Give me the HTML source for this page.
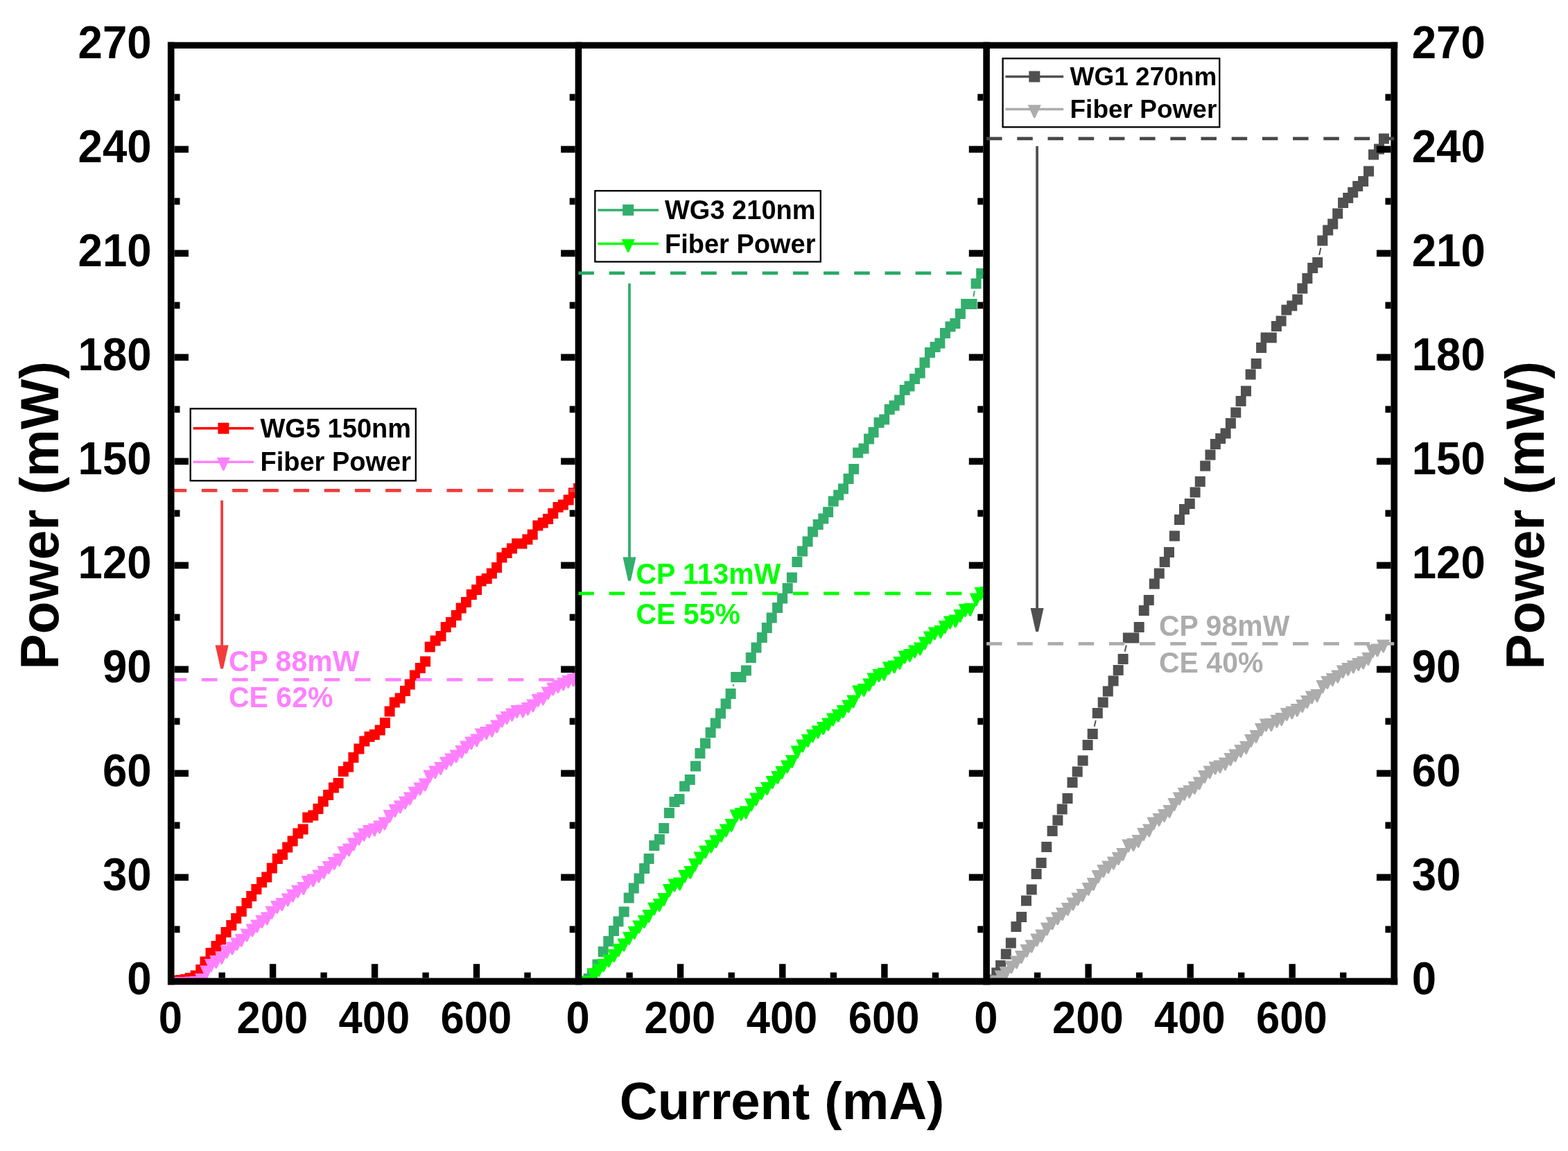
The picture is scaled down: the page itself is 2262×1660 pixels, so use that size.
<!DOCTYPE html>
<html><head><meta charset="utf-8"><title>Power vs Current</title>
<style>html,body{margin:0;padding:0;background:#fff;}svg{display:block;}</style>
</head><body>
<svg width="2262" height="1660" viewBox="0 0 2262 1660">
<rect width="2262" height="1660" fill="#fff"/>
<defs>
<clipPath id="c0"><rect x="246.7" y="65.3" width="587.8" height="1350.1000000000001"/></clipPath>
<clipPath id="c1"><rect x="834.5" y="65.3" width="588.5999999999999" height="1350.1000000000001"/></clipPath>
<clipPath id="c2"><rect x="1423.1" y="65.3" width="588.1000000000001" height="1350.1000000000001"/></clipPath>
</defs>
<g clip-path="url(#c0)">
<path fill="#ff0000" d="M239.2 1406.9h15.0v15.0h-15.0zM246.5 1406.4h15.0v15.0h-15.0zM253.9 1405.9h15.0v15.0h-15.0zM260.2 1404.9h15.0v15.0h-15.0zM266.7 1402.9h15.0v15.0h-15.0zM274.7 1399.4h15.0v15.0h-15.0zM282.3 1390.9h15.0v15.0h-15.0zM288.5 1379.4h15.0v15.0h-15.0zM296.5 1366.9h15.0v15.0h-15.0zM304.5 1356.9h15.0v15.0h-15.0zM311.1 1347.4h15.0v15.0h-15.0zM318.6 1336.9h15.0v15.0h-15.0zM326.3 1326.9h15.0v15.0h-15.0zM333.2 1316.9h15.0v15.0h-15.0zM340.8 1306.9h15.0v15.0h-15.0zM348.5 1294.9h15.0v15.0h-15.0zM355.2 1284.9h15.0v15.0h-15.0zM362.4 1274.9h15.0v15.0h-15.0zM370.1 1264.9h15.0v15.0h-15.0zM377.3 1257.4h15.0v15.0h-15.0zM384.8 1244.4h15.0v15.0h-15.0zM392.8 1230.9h15.0v15.0h-15.0zM400.0 1224.9h15.0v15.0h-15.0zM407.2 1214.4h15.0v15.0h-15.0zM414.6 1205.4h15.0v15.0h-15.0zM422.4 1194.4h15.0v15.0h-15.0zM429.6 1188.4h15.0v15.0h-15.0zM436.3 1171.4h15.0v15.0h-15.0zM444.3 1168.4h15.0v15.0h-15.0zM451.5 1158.9h15.0v15.0h-15.0zM458.7 1148.4h15.0v15.0h-15.0zM466.1 1138.9h15.0v15.0h-15.0zM473.9 1128.4h15.0v15.0h-15.0zM480.6 1121.9h15.0v15.0h-15.0zM487.8 1104.9h15.0v15.0h-15.0zM495.1 1098.4h15.0v15.0h-15.0zM502.4 1084.9h15.0v15.0h-15.0zM510.4 1072.4h15.0v15.0h-15.0zM518.3 1061.4h15.0v15.0h-15.0zM525.5 1054.9h15.0v15.0h-15.0zM532.8 1051.9h15.0v15.0h-15.0zM540.7 1045.4h15.0v15.0h-15.0zM547.9 1034.9h15.0v15.0h-15.0zM554.6 1018.4h15.0v15.0h-15.0zM561.8 1005.4h15.0v15.0h-15.0zM569.7 999.4h15.0v15.0h-15.0zM577.0 988.9h15.0v15.0h-15.0zM583.7 979.4h15.0v15.0h-15.0zM590.9 966.4h15.0v15.0h-15.0zM598.8 955.9h15.0v15.0h-15.0zM606.1 946.4h15.0v15.0h-15.0zM612.7 925.4h15.0v15.0h-15.0zM620.6 916.4h15.0v15.0h-15.0zM628.5 909.9h15.0v15.0h-15.0zM635.7 896.9h15.0v15.0h-15.0zM643.0 889.9h15.0v15.0h-15.0zM650.8 879.9h15.0v15.0h-15.0zM657.7 869.4h15.0v15.0h-15.0zM665.0 860.9h15.0v15.0h-15.0zM672.8 849.9h15.0v15.0h-15.0zM680.1 842.9h15.0v15.0h-15.0zM686.7 830.4h15.0v15.0h-15.0zM694.7 826.9h15.0v15.0h-15.0zM701.9 819.4h15.0v15.0h-15.0zM709.1 810.9h15.0v15.0h-15.0zM716.4 796.4h15.0v15.0h-15.0zM723.7 789.9h15.0v15.0h-15.0zM731.0 783.4h15.0v15.0h-15.0zM738.2 776.4h15.0v15.0h-15.0zM745.4 776.4h15.0v15.0h-15.0zM753.4 770.4h15.0v15.0h-15.0zM760.7 763.4h15.0v15.0h-15.0zM768.4 750.4h15.0v15.0h-15.0zM775.8 746.4h15.0v15.0h-15.0zM783.1 740.9h15.0v15.0h-15.0zM790.3 732.9h15.0v15.0h-15.0zM797.6 723.9h15.0v15.0h-15.0zM804.9 720.4h15.0v15.0h-15.0zM812.7 713.4h15.0v15.0h-15.0zM819.9 703.4h15.0v15.0h-15.0zM827.1 696.9h15.0v15.0h-15.0z"/>
<path fill="#ff80ff" d="M237.1 1409.1H256.3L247.8 1427.7H245.6zM244.4 1409.1H263.6L255.1 1427.7H252.9zM251.8 1409.1H271.0L262.5 1427.7H260.3zM259.1 1409.1H278.3L269.8 1427.7H267.6zM266.5 1408.6H285.7L277.2 1427.2H275.0zM273.8 1408.1H293.0L284.5 1426.7H282.3zM281.2 1404.1H300.4L291.9 1422.7H289.7zM288.4 1392.6H307.6L299.1 1411.2H296.9zM294.9 1383.1H314.1L305.6 1401.7H303.4zM302.2 1378.1H321.4L312.9 1396.7H310.7zM310.2 1372.1H329.4L320.9 1390.7H318.7zM317.4 1363.6H336.6L328.1 1382.2H325.9zM325.4 1358.6H344.6L336.1 1377.2H333.9zM332.0 1352.6H351.2L342.7 1371.2H340.5zM338.6 1347.1H357.8L349.3 1365.7H347.1zM346.5 1339.6H365.7L357.2 1358.2H355.0zM354.5 1332.6H373.7L365.2 1351.2H363.0zM361.1 1326.6H380.3L371.8 1345.2H369.6zM368.3 1320.1H387.5L379.0 1338.7H376.8zM375.7 1315.6H394.9L386.4 1334.2H384.2zM382.4 1307.1H401.6L393.1 1325.7H390.9zM390.1 1299.1H409.3L400.8 1317.7H398.6zM397.3 1295.1H416.5L408.0 1313.7H405.8zM405.6 1288.6H424.8L416.3 1307.2H414.1zM412.8 1282.6H432.0L423.5 1301.2H421.3zM420.0 1276.6H439.2L430.7 1295.2H428.5zM428.3 1272.1H447.5L439.0 1290.7H436.8zM434.5 1263.1H453.7L445.2 1281.7H443.0zM442.2 1260.6H461.4L452.9 1279.2H450.7zM450.2 1254.6H469.4L460.9 1273.2H458.7zM457.5 1249.1H476.7L468.2 1267.7H466.0zM464.7 1242.1H483.9L475.4 1260.7H473.2zM472.6 1236.1H491.8L483.3 1254.7H481.1zM479.9 1231.1H499.1L490.6 1249.7H488.4zM486.5 1220.6H505.7L497.2 1239.2H495.0zM493.8 1216.6H513.0L504.5 1235.2H502.3zM500.5 1208.6H519.7L511.2 1227.2H509.0zM508.3 1200.6H527.5L519.0 1219.2H516.8zM515.6 1194.6H534.8L526.3 1213.2H524.1zM522.8 1190.1H542.0L533.5 1208.7H531.3zM530.7 1187.6H549.9L541.4 1206.2H539.2zM538.0 1183.6H557.2L548.7 1202.2H546.5zM545.3 1178.6H564.5L556.0 1197.2H553.8zM552.5 1168.1H571.7L563.2 1186.7H561.0zM560.4 1160.1H579.6L571.1 1178.7H568.9zM567.7 1154.6H586.9L578.4 1173.2H576.2zM574.9 1148.6H594.1L585.6 1167.2H583.4zM581.8 1142.6H601.0L592.5 1161.2H590.3zM588.5 1134.6H607.7L599.2 1153.2H597.0zM596.3 1128.6H615.5L607.0 1147.2H604.8zM603.6 1122.6H622.8L614.3 1141.2H612.1zM610.3 1110.6H629.5L621.0 1129.2H618.8zM618.1 1104.6H637.3L628.8 1123.2H626.6zM626.0 1099.1H645.2L636.7 1117.7H634.5zM633.9 1091.6H653.1L644.6 1110.2H642.4zM641.1 1086.6H660.3L651.8 1105.2H649.6zM648.4 1081.6H667.6L659.1 1100.2H656.9zM656.3 1075.1H675.5L667.0 1093.7H664.8zM663.0 1068.6H682.2L673.7 1087.2H671.5zM670.2 1062.6H689.4L680.9 1081.2H678.7zM678.2 1058.6H697.4L688.9 1077.2H686.7zM684.8 1050.6H704.0L695.5 1069.2H693.3zM692.1 1048.1H711.3L702.8 1066.7H700.6zM700.0 1044.6H719.2L710.7 1063.2H708.5zM707.2 1038.6H726.4L717.9 1057.2H715.7zM714.5 1030.6H733.7L725.2 1049.2H723.0zM721.7 1026.1H740.9L732.4 1044.7H730.2zM729.0 1021.6H748.2L739.7 1040.2H737.5zM736.2 1017.1H755.4L746.9 1035.7H744.7zM744.7 1016.6H763.9L755.4 1035.2H753.2zM751.9 1013.1H771.1L762.6 1031.7H760.4zM759.3 1008.6H778.5L770.0 1027.2H767.8zM766.5 1001.1H785.7L777.2 1019.7H775.0zM773.8 998.6H793.0L784.5 1017.2H782.3zM780.8 990.6H800.0L791.5 1009.2H789.3zM788.2 984.6H807.4L798.9 1003.2H796.7zM795.5 981.1H814.7L806.2 999.7H804.0zM802.9 977.6H822.1L813.6 996.2H811.4zM810.2 974.1H829.4L820.9 992.7H818.7zM817.6 971.6H836.8L828.3 990.2H826.1zM824.9 970.1H844.1L835.6 988.7H833.4z"/>
</g>
<g clip-path="url(#c1)">
<path fill="none" stroke="#33ae6c" stroke-width="2" d="M1057.5 989.8L1058.4 987.0M1404.3 427.8L1405.9 419.5"/>
<path fill="#33ae6c" d="M827.0 1407.9h15.0v15.0h-15.0zM834.4 1407.4h15.0v15.0h-15.0zM841.7 1403.9h15.0v15.0h-15.0zM846.9 1396.4h15.0v15.0h-15.0zM854.5 1383.4h15.0v15.0h-15.0zM862.7 1364.9h15.0v15.0h-15.0zM870.3 1349.9h15.0v15.0h-15.0zM878.0 1334.9h15.0v15.0h-15.0zM884.5 1321.4h15.0v15.0h-15.0zM892.7 1307.4h15.0v15.0h-15.0zM899.7 1287.4h15.0v15.0h-15.0zM906.8 1273.4h15.0v15.0h-15.0zM914.5 1259.4h15.0v15.0h-15.0zM922.1 1244.9h15.0v15.0h-15.0zM928.6 1230.9h15.0v15.0h-15.0zM936.3 1211.9h15.0v15.0h-15.0zM943.9 1202.9h15.0v15.0h-15.0zM950.2 1186.9h15.0v15.0h-15.0zM957.9 1164.9h15.0v15.0h-15.0zM965.5 1148.9h15.0v15.0h-15.0zM972.5 1144.9h15.0v15.0h-15.0zM980.1 1126.4h15.0v15.0h-15.0zM987.8 1116.9h15.0v15.0h-15.0zM996.0 1097.4h15.0v15.0h-15.0zM1002.4 1078.9h15.0v15.0h-15.0zM1010.0 1064.4h15.0v15.0h-15.0zM1017.6 1048.9h15.0v15.0h-15.0zM1024.8 1035.4h15.0v15.0h-15.0zM1032.0 1021.4h15.0v15.0h-15.0zM1039.6 1007.4h15.0v15.0h-15.0zM1046.6 992.9h15.0v15.0h-15.0zM1054.2 968.9h15.0v15.0h-15.0zM1061.5 968.9h15.0v15.0h-15.0zM1068.9 959.4h15.0v15.0h-15.0zM1075.8 940.9h15.0v15.0h-15.0zM1083.5 926.4h15.0v15.0h-15.0zM1091.8 911.9h15.0v15.0h-15.0zM1098.8 897.9h15.0v15.0h-15.0zM1105.7 883.4h15.0v15.0h-15.0zM1114.1 868.9h15.0v15.0h-15.0zM1121.1 855.4h15.0v15.0h-15.0zM1128.7 840.9h15.0v15.0h-15.0zM1134.9 825.4h15.0v15.0h-15.0zM1142.4 802.9h15.0v15.0h-15.0zM1150.0 787.4h15.0v15.0h-15.0zM1157.6 773.4h15.0v15.0h-15.0zM1165.1 759.4h15.0v15.0h-15.0zM1172.7 748.9h15.0v15.0h-15.0zM1180.3 740.4h15.0v15.0h-15.0zM1187.1 730.9h15.0v15.0h-15.0zM1194.7 715.4h15.0v15.0h-15.0zM1202.2 706.4h15.0v15.0h-15.0zM1209.0 697.4h15.0v15.0h-15.0zM1216.6 682.9h15.0v15.0h-15.0zM1224.2 668.9h15.0v15.0h-15.0zM1230.2 645.4h15.0v15.0h-15.0zM1238.5 639.4h15.0v15.0h-15.0zM1246.1 625.4h15.0v15.0h-15.0zM1252.6 615.9h15.0v15.0h-15.0zM1260.6 601.9h15.0v15.0h-15.0zM1268.2 597.4h15.0v15.0h-15.0zM1275.7 582.9h15.0v15.0h-15.0zM1282.6 577.4h15.0v15.0h-15.0zM1290.1 569.4h15.0v15.0h-15.0zM1297.7 554.9h15.0v15.0h-15.0zM1304.5 549.4h15.0v15.0h-15.0zM1312.1 538.9h15.0v15.0h-15.0zM1319.7 530.4h15.0v15.0h-15.0zM1326.5 515.4h15.0v15.0h-15.0zM1334.0 500.9h15.0v15.0h-15.0zM1341.6 492.9h15.0v15.0h-15.0zM1348.4 487.4h15.0v15.0h-15.0zM1356.0 472.9h15.0v15.0h-15.0zM1363.5 463.4h15.0v15.0h-15.0zM1370.4 458.9h15.0v15.0h-15.0zM1377.9 444.9h15.0v15.0h-15.0zM1386.2 430.9h15.0v15.0h-15.0zM1394.6 430.9h15.0v15.0h-15.0zM1400.6 401.4h15.0v15.0h-15.0zM1408.2 386.9h15.0v15.0h-15.0z"/>
<path fill="#00ff00" d="M824.9 1409.1H844.1L835.6 1427.7H833.4zM832.3 1409.1H851.5L843.0 1427.7H840.8zM839.6 1407.6H858.8L850.3 1426.2H848.1zM846.8 1396.6H866.0L857.5 1415.2H855.3zM854.3 1390.1H873.5L865.0 1408.7H862.8zM861.0 1383.1H880.2L871.7 1401.7H869.5zM868.6 1376.6H887.8L879.3 1395.2H877.1zM876.2 1369.1H895.4L886.9 1387.7H884.7zM882.8 1361.1H902.0L893.5 1379.7H891.3zM890.4 1353.6H909.6L901.1 1372.2H898.9zM898.0 1344.1H917.2L908.7 1362.7H906.5zM905.6 1336.1H924.8L916.3 1354.7H914.1zM912.2 1327.6H931.4L922.9 1346.2H920.7zM919.8 1320.1H939.0L930.5 1338.7H928.3zM926.3 1312.1H945.5L937.0 1330.7H934.8zM934.0 1301.6H953.2L944.7 1320.2H942.5zM941.6 1296.1H960.8L952.3 1314.7H950.1zM948.1 1288.1H967.3L958.8 1306.7H956.6zM955.8 1275.1H975.0L966.5 1293.7H964.3zM963.4 1267.6H982.6L974.1 1286.2H971.9zM971.0 1265.6H990.2L981.7 1284.2H979.5zM978.1 1254.6H997.3L988.8 1273.2H986.6zM986.3 1249.1H1005.5L997.0 1267.7H994.8zM992.8 1238.1H1012.0L1003.5 1256.7H1001.3zM1000.4 1228.4H1019.6L1011.1 1247.0H1008.9zM1008.0 1219.6H1027.2L1018.7 1238.2H1016.5zM1016.3 1211.6H1035.5L1027.0 1230.2H1024.8zM1023.2 1204.6H1042.4L1033.9 1223.2H1031.7zM1030.9 1196.1H1050.1L1041.6 1214.7H1039.4zM1037.9 1188.6H1057.1L1048.6 1207.2H1046.4zM1045.5 1181.1H1064.7L1056.2 1199.7H1054.0zM1052.5 1167.6H1071.7L1063.2 1186.2H1061.0zM1059.5 1165.1H1078.7L1070.2 1183.7H1068.0zM1066.5 1162.6H1085.7L1077.2 1181.2H1075.0zM1074.1 1151.6H1093.3L1084.8 1170.2H1082.6zM1081.1 1143.6H1100.3L1091.8 1162.2H1089.6zM1088.7 1135.1H1107.9L1099.4 1153.7H1097.2zM1097.0 1128.1H1116.2L1107.7 1146.7H1105.5zM1104.6 1119.1H1123.8L1115.3 1137.7H1113.1zM1112.2 1112.1H1131.4L1122.9 1130.7H1120.7zM1118.3 1105.1H1137.5L1129.0 1123.7H1126.8zM1126.0 1096.6H1145.2L1136.7 1115.2H1134.5zM1132.9 1089.1H1152.1L1143.6 1107.7H1141.4zM1140.5 1075.6H1159.7L1151.2 1094.2H1149.0zM1148.2 1066.6H1167.4L1158.9 1085.2H1156.7zM1155.8 1059.1H1175.0L1166.5 1077.7H1164.3zM1162.8 1052.1H1182.0L1173.5 1070.7H1171.3zM1170.5 1046.6H1189.7L1181.2 1065.2H1179.0zM1178.1 1041.1H1197.3L1188.8 1059.7H1186.6zM1185.1 1035.6H1204.3L1195.8 1054.2H1193.6zM1192.0 1028.6H1211.2L1202.7 1047.2H1200.5zM1199.7 1023.1H1218.9L1210.4 1041.7H1208.2zM1206.7 1017.1H1225.9L1217.4 1035.7H1215.2zM1214.3 1009.6H1233.5L1225.0 1028.2H1222.8zM1221.3 1002.6H1240.5L1232.0 1021.2H1229.8zM1229.0 988.6H1248.2L1239.7 1007.2H1237.5zM1236.6 986.1H1255.8L1247.3 1004.7H1245.1zM1244.2 978.6H1263.4L1254.9 997.2H1252.7zM1250.5 970.6H1269.7L1261.2 989.2H1259.0zM1258.3 965.1H1277.5L1269.0 983.7H1266.8zM1265.8 963.1H1285.0L1276.5 981.7H1274.3zM1272.8 954.6H1292.0L1283.5 973.2H1281.3zM1280.5 952.6H1299.7L1291.2 971.2H1289.0zM1288.2 947.1H1307.4L1298.9 965.7H1296.7zM1295.5 938.6H1314.7L1306.2 957.2H1304.0zM1302.8 936.1H1322.0L1313.5 954.7H1311.3zM1310.0 930.6H1329.2L1320.7 949.2H1318.5zM1317.8 926.6H1337.0L1328.5 945.2H1326.3zM1324.5 918.6H1343.7L1335.2 937.2H1333.0zM1331.8 910.6H1351.0L1342.5 929.2H1340.3zM1338.7 904.6H1357.9L1349.4 923.2H1347.2zM1347.4 902.1H1366.6L1358.1 920.7H1355.9zM1353.6 895.1H1372.8L1364.3 913.7H1362.1zM1360.9 888.6H1380.1L1371.6 907.2H1369.4zM1368.7 886.6H1387.9L1379.4 905.2H1377.2zM1375.5 879.1H1394.7L1386.2 897.7H1384.0zM1382.7 871.1H1401.9L1393.4 889.7H1391.2zM1390.0 870.1H1409.2L1400.7 888.7H1398.5zM1398.7 855.6H1417.9L1409.4 874.2H1407.2zM1405.5 847.1H1424.7L1416.2 865.7H1414.0zM1413.2 846.1H1432.4L1423.9 864.7H1421.7z"/>
</g>
<g clip-path="url(#c2)">
<path fill="none" stroke="#505050" stroke-width="2" d="M1578.7 1047.8L1580.8 1039.0M1622.6 939.8L1624.9 930.5M1903.1 367.8L1905.4 357.5"/>
<path fill="#505050" d="M1415.6 1407.9h15.0v15.0h-15.0zM1423.0 1405.4h15.0v15.0h-15.0zM1430.3 1395.4h15.0v15.0h-15.0zM1436.1 1384.9h15.0v15.0h-15.0zM1443.8 1368.4h15.0v15.0h-15.0zM1450.8 1352.4h15.0v15.0h-15.0zM1458.4 1328.9h15.0v15.0h-15.0zM1466.1 1314.9h15.0v15.0h-15.0zM1473.0 1291.4h15.0v15.0h-15.0zM1480.7 1275.4h15.0v15.0h-15.0zM1487.6 1252.9h15.0v15.0h-15.0zM1494.6 1236.9h15.0v15.0h-15.0zM1502.3 1213.9h15.0v15.0h-15.0zM1510.6 1190.9h15.0v15.0h-15.0zM1518.4 1175.4h15.0v15.0h-15.0zM1524.7 1159.4h15.0v15.0h-15.0zM1532.5 1143.9h15.0v15.0h-15.0zM1539.5 1120.9h15.0v15.0h-15.0zM1546.7 1105.4h15.0v15.0h-15.0zM1554.6 1089.4h15.0v15.0h-15.0zM1561.6 1066.9h15.0v15.0h-15.0zM1568.7 1050.9h15.0v15.0h-15.0zM1575.8 1020.9h15.0v15.0h-15.0zM1583.7 1005.4h15.0v15.0h-15.0zM1590.8 989.4h15.0v15.0h-15.0zM1598.6 974.4h15.0v15.0h-15.0zM1605.7 958.9h15.0v15.0h-15.0zM1612.6 942.9h15.0v15.0h-15.0zM1619.9 912.4h15.0v15.0h-15.0zM1628.3 912.4h15.0v15.0h-15.0zM1635.7 896.9h15.0v15.0h-15.0zM1642.8 872.9h15.0v15.0h-15.0zM1649.8 857.9h15.0v15.0h-15.0zM1657.8 834.4h15.0v15.0h-15.0zM1664.8 819.4h15.0v15.0h-15.0zM1672.7 802.9h15.0v15.0h-15.0zM1679.0 788.9h15.0v15.0h-15.0zM1686.9 765.4h15.0v15.0h-15.0zM1694.0 741.9h15.0v15.0h-15.0zM1701.0 726.9h15.0v15.0h-15.0zM1708.8 718.9h15.0v15.0h-15.0zM1716.6 702.4h15.0v15.0h-15.0zM1723.8 686.9h15.0v15.0h-15.0zM1731.2 664.4h15.0v15.0h-15.0zM1738.5 648.4h15.0v15.0h-15.0zM1745.9 632.9h15.0v15.0h-15.0zM1753.2 624.9h15.0v15.0h-15.0zM1760.6 617.4h15.0v15.0h-15.0zM1767.9 602.9h15.0v15.0h-15.0zM1775.3 587.4h15.0v15.0h-15.0zM1782.6 570.9h15.0v15.0h-15.0zM1790.0 556.4h15.0v15.0h-15.0zM1796.6 532.4h15.0v15.0h-15.0zM1804.7 516.9h15.0v15.0h-15.0zM1812.1 493.9h15.0v15.0h-15.0zM1818.6 479.4h15.0v15.0h-15.0zM1826.8 479.4h15.0v15.0h-15.0zM1833.9 462.9h15.0v15.0h-15.0zM1840.6 455.4h15.0v15.0h-15.0zM1848.4 439.4h15.0v15.0h-15.0zM1856.3 433.4h15.0v15.0h-15.0zM1864.2 424.4h15.0v15.0h-15.0zM1871.3 408.4h15.0v15.0h-15.0zM1878.4 393.9h15.0v15.0h-15.0zM1886.2 378.9h15.0v15.0h-15.0zM1893.2 370.9h15.0v15.0h-15.0zM1900.3 339.4h15.0v15.0h-15.0zM1908.2 324.4h15.0v15.0h-15.0zM1915.2 315.4h15.0v15.0h-15.0zM1922.2 300.4h15.0v15.0h-15.0zM1930.1 284.9h15.0v15.0h-15.0zM1937.2 277.9h15.0v15.0h-15.0zM1944.2 269.9h15.0v15.0h-15.0zM1951.2 260.9h15.0v15.0h-15.0zM1959.1 253.9h15.0v15.0h-15.0zM1967.0 239.4h15.0v15.0h-15.0zM1974.0 215.4h15.0v15.0h-15.0zM1981.9 207.4h15.0v15.0h-15.0zM1988.9 192.4h15.0v15.0h-15.0z"/>
<path fill="#acacac" d="M1413.5 1409.1H1432.7L1424.2 1427.7H1422.0zM1420.9 1409.1H1440.1L1431.6 1427.7H1429.4zM1428.2 1406.6H1447.4L1438.9 1425.2H1436.7zM1434.6 1399.6H1453.8L1445.3 1418.2H1443.1zM1441.6 1394.1H1460.8L1452.3 1412.7H1450.1zM1449.3 1385.6H1468.5L1460.0 1404.2H1457.8zM1456.9 1378.6H1476.1L1467.6 1397.2H1465.4zM1463.9 1371.1H1483.1L1474.6 1389.7H1472.4zM1471.5 1362.1H1490.7L1482.2 1380.7H1480.0zM1478.5 1355.6H1497.7L1489.2 1374.2H1487.0zM1486.2 1346.6H1505.4L1496.9 1365.2H1494.7zM1493.1 1340.6H1512.3L1503.8 1359.2H1501.6zM1500.8 1330.6H1520.0L1511.5 1349.2H1509.3zM1508.4 1322.6H1527.6L1519.1 1341.2H1516.9zM1516.1 1315.6H1535.3L1526.8 1334.2H1524.6zM1523.0 1309.1H1542.2L1533.7 1327.7H1531.5zM1530.7 1302.1H1549.9L1541.4 1320.7H1539.2zM1538.4 1294.6H1557.6L1549.1 1313.2H1546.9zM1545.3 1287.6H1564.5L1556.0 1306.2H1553.8zM1552.3 1282.1H1571.5L1563.0 1300.7H1560.8zM1560.6 1273.1H1579.8L1571.3 1291.7H1569.1zM1567.6 1266.1H1586.8L1578.3 1284.7H1576.1zM1574.6 1255.1H1593.8L1585.3 1273.7H1583.1zM1582.2 1247.1H1601.4L1592.9 1265.7H1590.7zM1589.2 1241.6H1608.4L1599.9 1260.2H1597.7zM1596.8 1235.6H1616.0L1607.5 1254.2H1605.3zM1603.8 1229.1H1623.0L1614.5 1247.7H1612.3zM1610.1 1223.1H1629.3L1620.8 1241.7H1618.6zM1618.2 1210.6H1637.4L1628.9 1229.2H1626.7zM1625.4 1209.1H1644.6L1636.1 1227.7H1633.9zM1632.5 1204.1H1651.7L1643.2 1222.7H1641.0zM1640.1 1194.1H1659.3L1650.8 1212.7H1648.6zM1648.1 1188.6H1667.3L1658.8 1207.2H1656.6zM1654.4 1178.6H1673.6L1665.1 1197.2H1662.9zM1662.4 1173.1H1681.6L1673.1 1191.7H1670.9zM1669.9 1167.1H1689.1L1680.6 1185.7H1678.4zM1677.4 1161.1H1696.6L1688.1 1179.7H1685.9zM1684.3 1151.1H1703.5L1695.0 1169.7H1692.8zM1691.7 1142.6H1710.9L1702.4 1161.2H1700.2zM1698.7 1136.1H1717.9L1709.4 1154.7H1707.2zM1706.2 1132.6H1725.4L1716.9 1151.2H1714.7zM1713.6 1127.1H1732.8L1724.3 1145.7H1722.1zM1720.5 1120.6H1739.7L1731.2 1139.2H1729.0zM1728.0 1111.1H1747.2L1738.7 1129.7H1736.5zM1735.5 1104.6H1754.7L1746.2 1123.2H1744.0zM1743.5 1098.6H1762.7L1754.2 1117.2H1752.0zM1750.4 1096.6H1769.6L1761.1 1115.2H1758.9zM1757.9 1092.6H1777.1L1768.6 1111.2H1766.4zM1765.4 1086.1H1784.6L1776.1 1104.7H1773.9zM1772.3 1080.6H1791.5L1783.0 1099.2H1780.8zM1780.3 1074.1H1799.5L1791.0 1092.7H1788.8zM1788.1 1069.1H1807.3L1798.8 1087.7H1796.6zM1795.0 1059.1H1814.2L1805.7 1077.7H1803.5zM1802.4 1053.1H1821.6L1813.1 1071.7H1810.9zM1809.9 1043.1H1829.1L1820.6 1061.7H1818.4zM1816.8 1036.6H1836.0L1827.5 1055.2H1825.3zM1824.3 1036.1H1843.5L1835.0 1054.7H1832.8zM1832.3 1031.1H1851.5L1843.0 1049.7H1840.8zM1839.2 1028.1H1858.4L1849.9 1046.7H1847.7zM1846.7 1021.1H1865.9L1857.4 1039.7H1855.2zM1854.2 1018.6H1873.4L1864.9 1037.2H1862.7zM1861.6 1015.1H1880.8L1872.3 1033.7H1870.1zM1869.1 1009.1H1888.3L1879.8 1027.7H1877.6zM1876.0 1003.1H1895.2L1886.7 1021.7H1884.5zM1882.9 996.6H1902.1L1893.6 1015.2H1891.4zM1890.4 994.1H1909.6L1901.1 1012.7H1898.9zM1898.4 981.1H1917.6L1909.1 999.7H1906.9zM1905.3 975.1H1924.5L1916.0 993.7H1913.8zM1912.7 971.1H1931.9L1923.4 989.7H1921.2zM1920.2 966.6H1939.4L1930.9 985.2H1928.7zM1927.7 959.6H1946.9L1938.4 978.2H1936.2zM1935.1 956.1H1954.3L1945.8 974.7H1943.6zM1942.7 952.6H1961.9L1953.4 971.2H1951.2zM1950.1 949.1H1969.3L1960.8 967.7H1958.6zM1957.0 946.6H1976.2L1967.7 965.2H1965.5zM1964.2 941.1H1983.4L1974.9 959.7H1972.7zM1970.7 930.1H1989.9L1981.4 948.7H1979.2zM1977.4 928.6H1996.6L1988.1 947.2H1985.9zM1986.0 922.6H2005.2L1996.7 941.2H1994.5z"/>
</g>
<line x1="246.7" y1="707.4" x2="834.5" y2="707.4" stroke="#f23c3c" stroke-width="4.6" stroke-dasharray="22.5 21.7"/>
<line x1="246.7" y1="980.2" x2="834.5" y2="980.2" stroke="#ff80ff" stroke-width="4.6" stroke-dasharray="22.5 21.7"/>
<rect x="274.7" y="589.4" width="325.09999999999997" height="103.89999999999998" fill="#fff" stroke="#000" stroke-width="2.3"/>
<line x1="278.8" y1="617.7" x2="365.9" y2="617.7" stroke="#ff0000" stroke-width="3.5"/>
<rect x="314.4" y="609.7" width="16" height="16" fill="#ff0000"/>
<line x1="278.8" y1="666.2" x2="365.9" y2="666.2" stroke="#ff80ff" stroke-width="3.5"/>
<path fill="#ff80ff" d="M312.8 659.8H332.0L323.5 678.5H321.2z"/>
<text font-family="'Liberation Sans', Arial, sans-serif" font-weight="bold" font-size="38" fill="#000" x="375.5" y="631.1">WG5 150nm</text>
<text font-family="'Liberation Sans', Arial, sans-serif" font-weight="bold" font-size="38" fill="#000" x="375.5" y="678.5">Fiber Power</text>
<rect x="858.4" y="275.2" width="325.4" height="102.30000000000001" fill="#fff" stroke="#000" stroke-width="2.3"/>
<line x1="862.4" y1="302.9" x2="950.0" y2="302.9" stroke="#33ae6c" stroke-width="3.5"/>
<rect x="898.2" y="294.9" width="16" height="16" fill="#33ae6c"/>
<line x1="862.4" y1="351.5" x2="950.0" y2="351.5" stroke="#00ff00" stroke-width="3.5"/>
<path fill="#00ff00" d="M896.6 345.1H915.8L907.3 363.8H905.1z"/>
<text font-family="'Liberation Sans', Arial, sans-serif" font-weight="bold" font-size="38" fill="#000" x="959" y="316">WG3 210nm</text>
<text font-family="'Liberation Sans', Arial, sans-serif" font-weight="bold" font-size="38" fill="#000" x="959" y="364.8">Fiber Power</text>
<rect x="1446.6" y="84.3" width="312.70000000000005" height="99.00000000000001" fill="#fff" stroke="#000" stroke-width="2.3"/>
<line x1="1450.4" y1="110.5" x2="1534.2" y2="110.5" stroke="#505050" stroke-width="3.5"/>
<rect x="1484.3" y="102.5" width="16" height="16" fill="#505050"/>
<line x1="1450.4" y1="157.6" x2="1534.2" y2="157.6" stroke="#acacac" stroke-width="3.5"/>
<path fill="#acacac" d="M1482.7 151.2H1501.9L1493.4 169.9H1491.2z"/>
<text font-family="'Liberation Sans', Arial, sans-serif" font-weight="bold" font-size="37" fill="#000" x="1543.5" y="122.9">WG1 270nm</text>
<text font-family="'Liberation Sans', Arial, sans-serif" font-weight="bold" font-size="37" fill="#000" x="1543.5" y="169.7">Fiber Power</text>
<rect x="242.0" y="60.7" width="1774.3" height="9.3" fill="#000"/>
<rect x="242.0" y="1410.5" width="1774.3" height="9.8" fill="#000"/>
<rect x="241.9" y="60.7" width="9.6" height="1359.6" fill="#000"/>
<rect x="829.7" y="60.7" width="9.6" height="1359.6" fill="#000"/>
<rect x="1418.3" y="60.7" width="9.6" height="1359.6" fill="#000"/>
<rect x="2006.4" y="60.7" width="9.6" height="1359.6" fill="#000"/>
<path fill="#000" d="M251.5 1335.6h8.0v9.6h-8.0zM821.7 1335.6h8.0v9.6h-8.0zM1410.3 1335.6h8.0v9.6h-8.0zM1998.4 1335.6h8.0v9.6h-8.0zM251.5 1260.6h20.5v9.6h-20.5zM809.2 1260.6h20.5v9.6h-20.5zM1397.8 1260.6h20.5v9.6h-20.5zM1985.9 1260.6h20.5v9.6h-20.5zM251.5 1185.6h8.0v9.6h-8.0zM821.7 1185.6h8.0v9.6h-8.0zM1410.3 1185.6h8.0v9.6h-8.0zM1998.4 1185.6h8.0v9.6h-8.0zM251.5 1110.6h20.5v9.6h-20.5zM809.2 1110.6h20.5v9.6h-20.5zM1397.8 1110.6h20.5v9.6h-20.5zM1985.9 1110.6h20.5v9.6h-20.5zM251.5 1035.6h8.0v9.6h-8.0zM821.7 1035.6h8.0v9.6h-8.0zM1410.3 1035.6h8.0v9.6h-8.0zM1998.4 1035.6h8.0v9.6h-8.0zM251.5 960.6h20.5v9.6h-20.5zM809.2 960.6h20.5v9.6h-20.5zM1397.8 960.6h20.5v9.6h-20.5zM1985.9 960.6h20.5v9.6h-20.5zM251.5 885.6h8.0v9.6h-8.0zM821.7 885.6h8.0v9.6h-8.0zM1410.3 885.6h8.0v9.6h-8.0zM1998.4 885.6h8.0v9.6h-8.0zM251.5 810.6h20.5v9.6h-20.5zM809.2 810.6h20.5v9.6h-20.5zM1397.8 810.6h20.5v9.6h-20.5zM1985.9 810.6h20.5v9.6h-20.5zM251.5 735.6h8.0v9.6h-8.0zM821.7 735.6h8.0v9.6h-8.0zM1410.3 735.6h8.0v9.6h-8.0zM1998.4 735.6h8.0v9.6h-8.0zM251.5 660.6h20.5v9.6h-20.5zM809.2 660.6h20.5v9.6h-20.5zM1397.8 660.6h20.5v9.6h-20.5zM1985.9 660.6h20.5v9.6h-20.5zM251.5 585.6h8.0v9.6h-8.0zM821.7 585.6h8.0v9.6h-8.0zM1410.3 585.6h8.0v9.6h-8.0zM1998.4 585.6h8.0v9.6h-8.0zM251.5 510.6h20.5v9.6h-20.5zM809.2 510.6h20.5v9.6h-20.5zM1397.8 510.6h20.5v9.6h-20.5zM1985.9 510.6h20.5v9.6h-20.5zM251.5 435.6h8.0v9.6h-8.0zM821.7 435.6h8.0v9.6h-8.0zM1410.3 435.6h8.0v9.6h-8.0zM1998.4 435.6h8.0v9.6h-8.0zM251.5 360.6h20.5v9.6h-20.5zM809.2 360.6h20.5v9.6h-20.5zM1397.8 360.6h20.5v9.6h-20.5zM1985.9 360.6h20.5v9.6h-20.5zM251.5 285.6h8.0v9.6h-8.0zM821.7 285.6h8.0v9.6h-8.0zM1410.3 285.6h8.0v9.6h-8.0zM1998.4 285.6h8.0v9.6h-8.0zM251.5 210.6h20.5v9.6h-20.5zM809.2 210.6h20.5v9.6h-20.5zM1397.8 210.6h20.5v9.6h-20.5zM1985.9 210.6h20.5v9.6h-20.5zM251.5 135.6h8.0v9.6h-8.0zM821.7 135.6h8.0v9.6h-8.0zM1410.3 135.6h8.0v9.6h-8.0zM1998.4 135.6h8.0v9.6h-8.0zM315.5 1402.5h9.4v8.0h-9.4zM388.9 1390.2h9.4v20.3h-9.4zM462.4 1402.5h9.4v8.0h-9.4zM535.9 1390.2h9.4v20.3h-9.4zM609.4 1402.5h9.4v8.0h-9.4zM682.8 1390.2h9.4v20.3h-9.4zM756.3 1402.5h9.4v8.0h-9.4zM903.4 1402.5h9.4v8.0h-9.4zM976.9 1390.2h9.4v20.3h-9.4zM1050.5 1402.5h9.4v8.0h-9.4zM1124.1 1390.2h9.4v20.3h-9.4zM1197.7 1402.5h9.4v8.0h-9.4zM1271.2 1390.2h9.4v20.3h-9.4zM1344.8 1402.5h9.4v8.0h-9.4zM1491.9 1402.5h9.4v8.0h-9.4zM1565.4 1390.2h9.4v20.3h-9.4zM1638.9 1402.5h9.4v8.0h-9.4zM1712.5 1390.2h9.4v20.3h-9.4zM1786.0 1402.5h9.4v8.0h-9.4zM1859.5 1390.2h9.4v20.3h-9.4zM1933.0 1402.5h9.4v8.0h-9.4z"/>
<g font-family="'Liberation Sans', Arial, sans-serif" font-weight="bold" font-size="63.5" fill="#000"><text transform="translate(218.5 1415.4) scale(1 1.05)" x="0" y="18.0" text-anchor="end">0</text><text transform="translate(2036.8 1415.4) scale(1 1.05)" x="0" y="18.0">0</text><text transform="translate(218.5 1265.4) scale(1 1.05)" x="0" y="18.0" text-anchor="end">30</text><text transform="translate(2036.8 1265.4) scale(1 1.05)" x="0" y="18.0">30</text><text transform="translate(218.5 1115.4) scale(1 1.05)" x="0" y="18.0" text-anchor="end">60</text><text transform="translate(2036.8 1115.4) scale(1 1.05)" x="0" y="18.0">60</text><text transform="translate(218.5 965.4) scale(1 1.05)" x="0" y="18.0" text-anchor="end">90</text><text transform="translate(2036.8 965.4) scale(1 1.05)" x="0" y="18.0">90</text><text transform="translate(218.5 815.4) scale(1 1.05)" x="0" y="18.0" text-anchor="end">120</text><text transform="translate(2036.8 815.4) scale(1 1.05)" x="0" y="18.0">120</text><text transform="translate(218.5 665.4) scale(1 1.05)" x="0" y="18.0" text-anchor="end">150</text><text transform="translate(2036.8 665.4) scale(1 1.05)" x="0" y="18.0">150</text><text transform="translate(218.5 515.4) scale(1 1.05)" x="0" y="18.0" text-anchor="end">180</text><text transform="translate(2036.8 515.4) scale(1 1.05)" x="0" y="18.0">180</text><text transform="translate(218.5 365.4) scale(1 1.05)" x="0" y="18.0" text-anchor="end">210</text><text transform="translate(2036.8 365.4) scale(1 1.05)" x="0" y="18.0">210</text><text transform="translate(218.5 215.4) scale(1 1.05)" x="0" y="18.0" text-anchor="end">240</text><text transform="translate(2036.8 215.4) scale(1 1.05)" x="0" y="18.0">240</text><text transform="translate(218.5 65.4) scale(1 1.05)" x="0" y="18.0" text-anchor="end">270</text><text transform="translate(2036.8 65.4) scale(1 1.05)" x="0" y="18.0">270</text></g>
<g font-family="'Liberation Sans', Arial, sans-serif" font-weight="bold" font-size="61.5" fill="#000"><text transform="translate(245.9 1490.2) scale(1 1.045)" x="0" y="0" text-anchor="middle">0</text><text transform="translate(392.8 1490.2) scale(1 1.045)" x="0" y="0" text-anchor="middle">200</text><text transform="translate(539.8 1490.2) scale(1 1.045)" x="0" y="0" text-anchor="middle">400</text><text transform="translate(686.8 1490.2) scale(1 1.045)" x="0" y="0" text-anchor="middle">600</text><text transform="translate(833.7 1490.2) scale(1 1.045)" x="0" y="0" text-anchor="middle">0</text><text transform="translate(980.9 1490.2) scale(1 1.045)" x="0" y="0" text-anchor="middle">200</text><text transform="translate(1128.0 1490.2) scale(1 1.045)" x="0" y="0" text-anchor="middle">400</text><text transform="translate(1275.1 1490.2) scale(1 1.045)" x="0" y="0" text-anchor="middle">600</text><text transform="translate(1422.3 1490.2) scale(1 1.045)" x="0" y="0" text-anchor="middle">0</text><text transform="translate(1569.3 1490.2) scale(1 1.045)" x="0" y="0" text-anchor="middle">200</text><text transform="translate(1716.4 1490.2) scale(1 1.045)" x="0" y="0" text-anchor="middle">400</text><text transform="translate(1863.4 1490.2) scale(1 1.045)" x="0" y="0" text-anchor="middle">600</text></g>
<text font-family="'Liberation Sans', Arial, sans-serif" font-weight="bold" font-size="77" fill="#000" text-anchor="middle" transform="translate(84.3 743.3) rotate(-90)">Power (mW)</text>
<text font-family="'Liberation Sans', Arial, sans-serif" font-weight="bold" font-size="77" fill="#000" text-anchor="middle" transform="translate(2227.1 743.3) rotate(-90)">Power (mW)</text>
<text font-family="'Liberation Sans', Arial, sans-serif" font-weight="bold" font-size="76" fill="#000" text-anchor="middle" x="1128.1" y="1613.9">Current (mA)</text>
<line x1="320.1" y1="721.7" x2="320.1" y2="931.5" stroke="#f23c3c" stroke-width="3.8"/><path fill="#f23c3c" d="M310.6 930.5H329.6L322.0 964.5H318.2z"/>
<text font-family="'Liberation Sans', Arial, sans-serif" font-weight="bold" font-size="41" fill="#ff80ff" transform="translate(330 968.4) scale(1 1.035)">CP 88mW</text>
<text font-family="'Liberation Sans', Arial, sans-serif" font-weight="bold" font-size="41" fill="#ff80ff" transform="translate(330 1019.9) scale(1 1.035)">CE 62%</text>
<line x1="834.5" y1="393.9" x2="1418.3" y2="393.9" stroke="#27a964" stroke-width="4.6" stroke-dasharray="22.5 21.7"/>
<line x1="834.5" y1="855.9" x2="1418.3" y2="855.9" stroke="#00ff00" stroke-width="4.6" stroke-dasharray="22.5 21.7"/>
<line x1="908.0" y1="408.8" x2="908.0" y2="804.5" stroke="#33ae6c" stroke-width="3.8"/><path fill="#33ae6c" d="M898.5 803.5H917.5L909.9 837.8H906.1z"/>
<text font-family="'Liberation Sans', Arial, sans-serif" font-weight="bold" font-size="41" fill="#00ff00" transform="translate(917.5 841.8) scale(1 1.035)">CP 113mW</text>
<text font-family="'Liberation Sans', Arial, sans-serif" font-weight="bold" font-size="41" fill="#00ff00" transform="translate(917.5 900.4) scale(1 1.035)">CE 55%</text>
<line x1="1423.1" y1="199.9" x2="2011.2" y2="199.9" stroke="#474747" stroke-width="4.6" stroke-dasharray="22.5 21.7"/>
<line x1="1423.1" y1="928.4" x2="2011.2" y2="928.4" stroke="#acacac" stroke-width="4.6" stroke-dasharray="22.5 21.7"/>
<line x1="1496.1" y1="210.8" x2="1496.1" y2="877.9" stroke="#505050" stroke-width="3.8"/><path fill="#505050" d="M1486.6 876.9H1505.6L1498.0 911.0H1494.2z"/>
<text font-family="'Liberation Sans', Arial, sans-serif" font-weight="bold" font-size="41" fill="#acacac" transform="translate(1672 916.7) scale(1 1.035)">CP 98mW</text>
<text font-family="'Liberation Sans', Arial, sans-serif" font-weight="bold" font-size="41" fill="#acacac" transform="translate(1672 969.8) scale(1 1.035)">CE 40%</text>
</svg>
</body></html>
